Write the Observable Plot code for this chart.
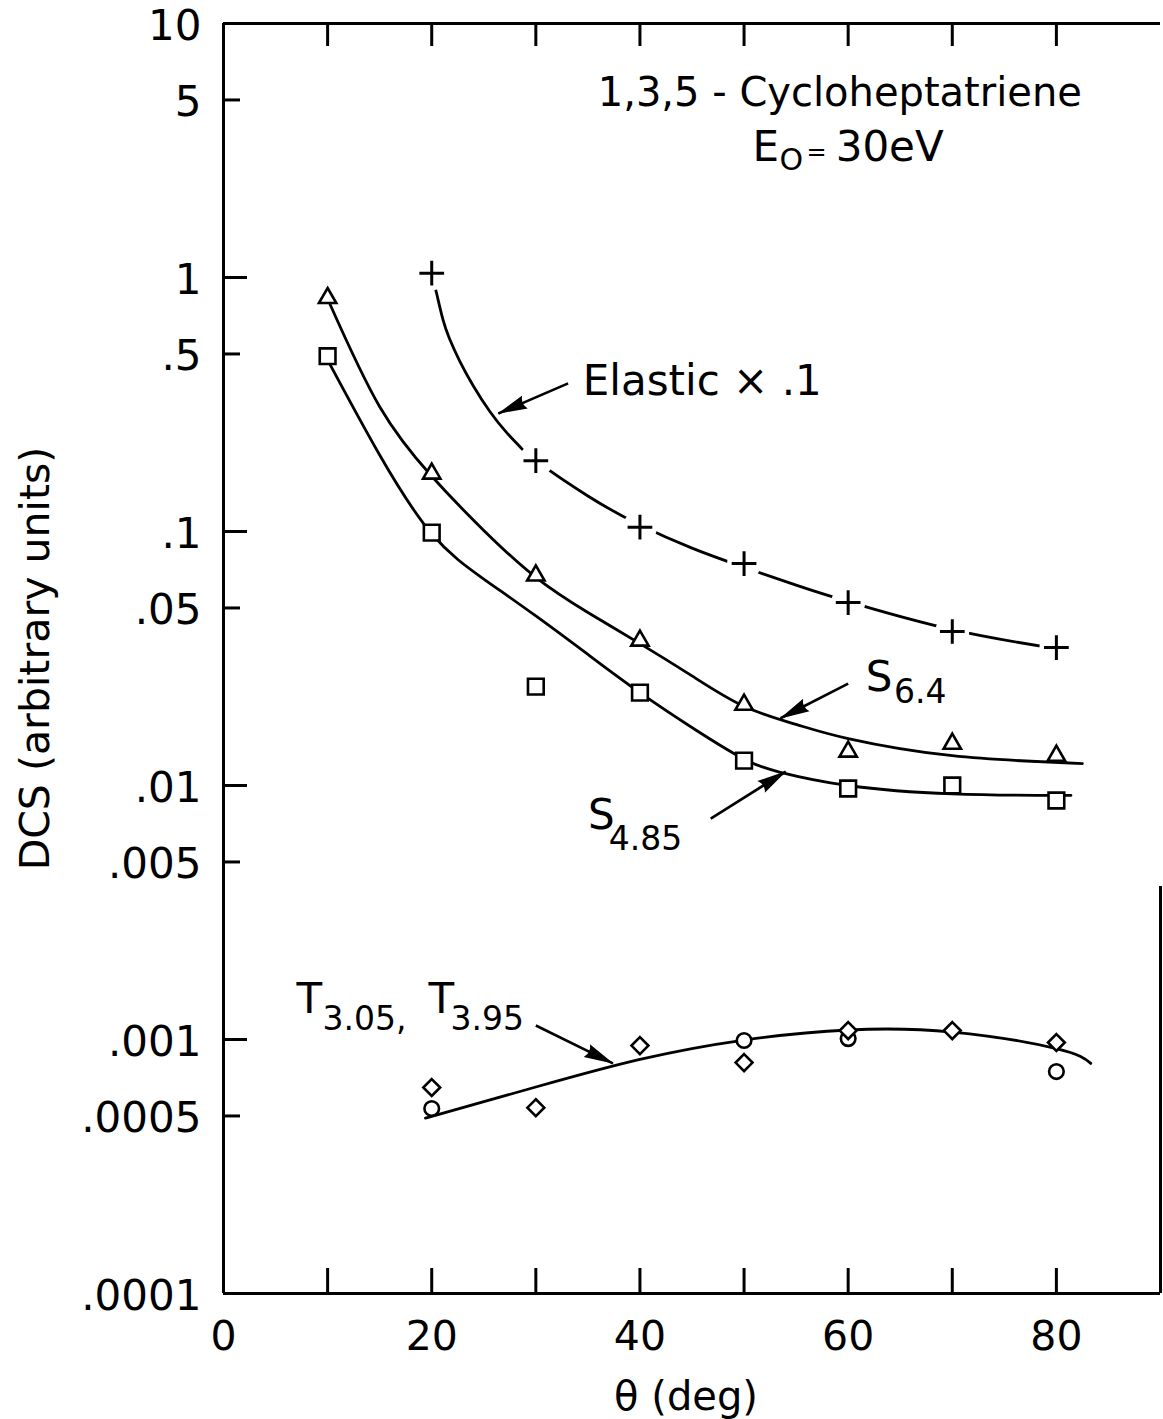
<!DOCTYPE html>
<html><head><meta charset="utf-8">
<script src="https://cdn.jsdelivr.net/npm/d3@7"></script>
<script src="https://cdn.jsdelivr.net/npm/@observablehq/plot@0.6"></script>
<style>html,body{margin:0;padding:0;background:#fff;} #chart svg{display:block;}</style>
</head><body><div id="chart"></div>
<script>
// ---------- data ----------
const angles = [10, 20, 30, 40, 50, 60, 70, 80];
const elasticAngles = [20, 30, 40, 50, 60, 70, 80];
const elasticDCS = [1.04, 0.19, 0.104, 0.0748, 0.0525, 0.0404, 0.0349];          // Elastic x .1 (+)
const s64DCS = [0.83, 0.169, 0.0671, 0.0372, 0.0208, 0.0136, 0.0146, 0.0131];     // S6.4 (triangles)
const s485DCS = [0.49, 0.099, 0.0245, 0.0232, 0.01253, 0.00973, 0.0100, 0.00873]; // S4.85 (squares)
const tDiamondAngles = [20, 30, 40, 50, 60, 70, 80];
const tDiamondDCS = [0.000647, 0.000539, 0.000946, 0.000811, 0.001084, 0.001084, 0.000973];
const tCircleAngles = [20, 50, 60, 80];
const tCircleDCS = [0.000535, 0.000991, 0.001008, 0.000748];

// fitted curves
const elasticCurveAngles = [20, 20.5, 21.06, 21.7, 22.7, 24, 25.6, 27.2, 28.5, 30, 35, 40, 45, 50, 55, 60, 70, 80];
const elasticCurveDCS = [1.04, 0.855, 0.687, 0.575, 0.468, 0.374, 0.296, 0.245, 0.215, 0.19, 0.138, 0.106, 0.086, 0.0723, 0.0615, 0.053, 0.0411, 0.0346];
const s64CurveAngles = [10.2, 15, 20, 25, 30, 35, 40, 45, 50, 55, 60, 70, 82.5];
const s64CurveDCS = [0.79, 0.31, 0.165, 0.101, 0.066, 0.048, 0.0362, 0.027, 0.0205, 0.0174, 0.0153, 0.0131, 0.0122];
const s485CurveAngles = [10.2, 15, 20, 25, 30, 35, 40, 45.4, 50, 53.4, 60, 70, 80, 81];
const s485CurveDCS = [0.457, 0.2, 0.098, 0.065, 0.0465, 0.0328, 0.0232, 0.0165, 0.0127, 0.0113, 0.0100, 0.00927, 0.00914, 0.00914];
const tCurveAngles = [19.4, 30, 40, 50, 60, 70, 80, 83.3];
const tCurveDCS = [0.00049, 0.00065, 0.000835, 0.000995, 0.00109, 0.00107, 0.00092, 0.000805];

// axes
const xTickValues = [10, 20, 30, 40, 50, 60, 70, 80];
const xLabelValues = [0, 20, 40, 60, 80];
const xLabels = ["0", "20", "40", "60", "80"];
const yTickValues = [5, 1, 0.5, 0.1, 0.05, 0.01, 0.005, 0.001, 0.0005];
const yLabelValues = [10, 5, 1, 0.5, 0.1, 0.05, 0.01, 0.005, 0.001, 0.0005, 0.0001];
const yLabels = ["10", "5", "1", ".5", ".1", ".05", ".01", ".005", ".001", ".0005", ".0001"];

// annotations (data coordinates)
const titleText = ["1,3,5 - Cycloheptatriene"];
const titleX = [59.2];
const titleY = [5.3];
const noteText = ["E", "30eV", "Elastic \u00d7 .1", "S", "S", "T", "T"];
const noteX = [50.8, 58.8, 34.5, 61.7, 35.0, 7.0, 19.7];
const noteY = [3.25, 3.25, 0.39, 0.0267, 0.00765, 0.00144, 0.00144];
const eSubText = ["O"];
const eSubX = [53.4];
const eSubY = [2.89];
const eqText = ["="];
const eqX = [56.0];
const eqY = [3.1];
const subText = ["6.4", "4.85", "3.05,", "3.95"];
const subX = [64.4, 37.0, 9.5, 21.8];
const subY = [0.0232, 0.00612, 0.0012, 0.0012];
const arrowX1 = [33.1, 60.0, 46.8, 30.0];
const arrowY1 = [0.383, 0.0252, 0.00741, 0.001135];
const arrowX2 = [26.4, 53.5, 54.0, 37.4];
const arrowY2 = [0.2915, 0.0184, 0.01135, 0.000805];

// ---------- layout ----------
const W = 1163, H = 1419;
const mL = 223, mR = 3, mT = 23, mB = 126;
const pxPerDeg = (W - mL - mR) / 90;
const pxPerDecade = (H - mT - mB) / 5;
const FONT = "DejaVu Sans";
const upPx = (v, px) => v * Math.pow(10, px / pxPerDecade);
const downPx = (v, px) => v / Math.pow(10, px / pxPerDecade);
const isDecade = v => Math.abs(Math.log10(v) - Math.round(Math.log10(v))) < 1e-6;

function arrowHead(color) {
  const ns = "http://www.w3.org/2000/svg";
  const m = document.createElementNS(ns, "marker");
  m.setAttribute("viewBox", "-32 -8 34 16");
  m.setAttribute("markerWidth", "34");
  m.setAttribute("markerHeight", "16");
  m.setAttribute("markerUnits", "userSpaceOnUse");
  m.setAttribute("orient", "auto");
  m.setAttribute("refX", "0");
  m.setAttribute("refY", "0");
  const p = document.createElementNS(ns, "path");
  p.setAttribute("d", "M1,0 L-29,-7 Q-24,0 -29,7 Z");
  p.setAttribute("fill", color === "currentColor" ? "black" : color);
  p.setAttribute("stroke", "none");
  m.appendChild(p);
  return m;
}

function build(marker) {
  const curve = (xs, ys) => Plot.line(ys, {x: xs, y: ys, curve: "natural", stroke: "black", strokeWidth: 2.8});
  return Plot.plot({
    width: W, height: H,
    marginLeft: mL, marginRight: mR, marginTop: mT, marginBottom: mB,
    style: {fontFamily: FONT, background: "white", color: "black", overflow: "visible"},
    x: {domain: [0, 90], axis: null},
    y: {type: "log", domain: [1e-4, 10], axis: null},
    marks: [
      // frame
      Plot.ruleX([0], {y1: 1e-4, y2: 10, stroke: "black", strokeWidth: 3}),
      Plot.ruleY([1e-4], {x1: 0, x2: 90, stroke: "black", strokeWidth: 3}),
      Plot.ruleY([10], {x1: 0, x2: 90, stroke: "black", strokeWidth: 3}),
      Plot.ruleX([90], {y1: 1e-4, y2: 0.004, stroke: "black", strokeWidth: 3}),
      // inward ticks
      Plot.ruleY(yTickValues, {y: d => d, x1: 0, x2: d => (isDecade(d) ? 24 : 17) / pxPerDeg, stroke: "black", strokeWidth: 3}),
      Plot.ruleX(xTickValues, {x: d => d, y1: 10, y2: downPx(10, 23), stroke: "black", strokeWidth: 3}),
      Plot.ruleX(xTickValues, {x: d => d, y1: 1e-4, y2: upPx(1e-4, 25), stroke: "black", strokeWidth: 3}),
      // tick labels
      Plot.text(yLabelValues, {x: 0, y: d => d, text: (d, i) => yLabels[i], textAnchor: "end", dx: -22, dy: 3, fontSize: 42, fill: "black"}),
      Plot.text(xLabelValues, {x: d => d, y: 1e-4, text: (d, i) => xLabels[i], dy: 43, fontSize: 41, fill: "black"}),
      // axis titles
      Plot.text(["DCS (arbitrary units)"], {frameAnchor: "left", textAnchor: "middle", lineAnchor: "middle", rotate: -90, dx: -188, text: d => d, fontSize: 41, fill: "black"}),
      Plot.text(["\u03b8 (deg)"], {frameAnchor: "bottom", textAnchor: "middle", lineAnchor: "middle", dy: 104, dx: -6, text: d => d, fontSize: 40, fill: "black"}),
      // curves
      curve(elasticCurveAngles, elasticCurveDCS),
      curve(s64CurveAngles, s64CurveDCS),
      curve(s485CurveAngles, s485CurveDCS),
      curve(tCurveAngles, tCurveDCS),
      // markers
      Plot.dot(elasticDCS, {x: elasticAngles, y: elasticDCS, r: 17, fill: "white", stroke: "none"}),
      Plot.dot(elasticDCS, {x: elasticAngles, y: elasticDCS, symbol: "plus", r: 8, fill: "none", stroke: "black", strokeWidth: 3}),
      Plot.dot(s64DCS, {x: angles, y: s64DCS, symbol: "triangle2", r: 8.3, fill: "white", stroke: "black", strokeWidth: 2.6}),
      Plot.dot(s485DCS, {x: angles, y: s485DCS, symbol: "square2", r: 10, fill: "white", stroke: "black", strokeWidth: 2.6}),
      Plot.dot(tCircleDCS, {x: tCircleAngles, y: tCircleDCS, symbol: "circle", r: 7.3, fill: "white", stroke: "black", strokeWidth: 2.6}),
      Plot.dot(tDiamondDCS, {x: tDiamondAngles, y: tDiamondDCS, symbol: "diamond2", r: 7.6, fill: "white", stroke: "black", strokeWidth: 2.6}),
      // annotations
      Plot.text(titleText, {x: titleX, y: titleY, text: d => d, textAnchor: "middle", fontSize: 40, fill: "black"}),
      Plot.text(noteText, {x: noteX, y: noteY, text: d => d, textAnchor: "start", fontSize: 42, fill: "black"}),
      Plot.text(eSubText, {x: eSubX, y: eSubY, text: d => d, textAnchor: "start", fontSize: 30, fill: "black"}),
      Plot.text(eqText, {x: eqX, y: eqY, text: d => d, textAnchor: "start", fontSize: 24, fill: "black"}),
      Plot.text(subText, {x: subX, y: subY, text: d => d, textAnchor: "start", fontSize: 33, fill: "black"}),
      Plot.link(arrowX1, {x1: arrowX1, y1: arrowY1, x2: arrowX2, y2: arrowY2, stroke: "black", strokeWidth: 2.6, markerEnd: marker})
    ]
  });
}

let chart;
try { chart = build(arrowHead); } catch (e) { chart = build("arrow"); }
document.getElementById("chart").appendChild(chart);
</script>
</body></html>
